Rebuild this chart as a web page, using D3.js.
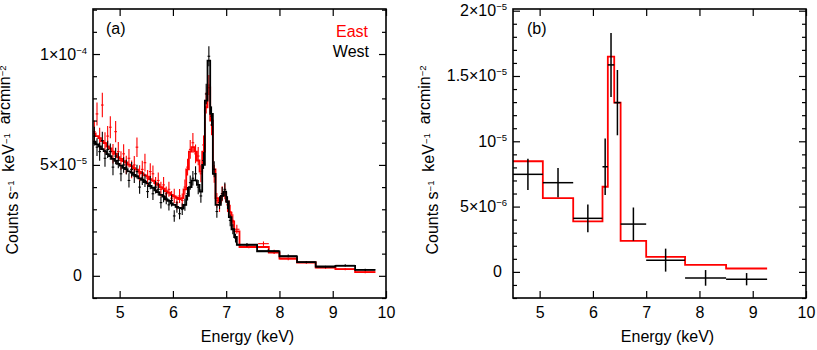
<!DOCTYPE html>
<html>
<head>
<meta charset="utf-8">
<script src="https://cdn.jsdelivr.net/npm/d3@7"></script>
<style>
body { margin: 0; background: #fff; }
svg { font-family: "Liberation Sans", Arial, Helvetica, sans-serif; }
text { white-space: pre; }
</style>
</head>
<body>
<svg id="vis" width="817" height="350"></svg>
<script>
// ---- panel (a): spectra in units of 1e-5 counts/s/keV/arcmin2 ----
let energyFine = [4.525, 4.575, 4.625, 4.675, 4.725, 4.775, 4.825, 4.875, 4.925, 4.975,
  5.025, 5.075, 5.125, 5.175, 5.225, 5.275, 5.325, 5.375, 5.425, 5.475,
  5.525, 5.575, 5.625, 5.675, 5.725, 5.775, 5.825, 5.875, 5.925, 5.975,
  6.025, 6.075, 6.125, 6.175, 6.225, 6.275, 6.325, 6.375, 6.425, 6.475,
  6.525, 6.575, 6.625, 6.675, 6.725, 6.775, 6.825, 6.875, 6.925, 6.975,
  7.025, 7.075, 7.125];
let fineHalfWidth = 0.025;

let eastFine = [6.5, 7.3, 6.2, 7.7, 6.0, 6.3, 6.7, 5.5, 6.5, 5.6,
  5.2, 5.5, 5.0, 5.3, 4.8, 5.0, 5.8, 4.6, 4.8, 5.1,
  4.4, 4.7, 4.6, 4.1, 4.3, 3.9, 4.1, 3.7, 3.9, 3.5,
  3.6, 3.3, 3.6, 3.4, 4.0, 4.9, 5.7, 6.0, 5.5, 5.4,
  4.6, 5.9, 7.8, 8.6, 6.8, 4.6, 3.4, 3.2, 3.7, 3.8,
  3.2, 2.9, 2.5];
let eastFineErr = [0.5, 0.52, 0.48, 0.55, 0.47, 0.46, 0.5, 0.44, 0.48, 0.43,
  0.42, 0.43, 0.41, 0.42, 0.4, 0.4, 0.44, 0.38, 0.39, 0.4,
  0.37, 0.38, 0.37, 0.35, 0.36, 0.34, 0.35, 0.33, 0.34, 0.32,
  0.33, 0.31, 0.32, 0.31, 0.34, 0.38, 0.42, 0.44, 0.42, 0.41,
  0.38, 0.43, 0.48, 0.45, 0.46, 0.4, 0.33, 0.32, 0.34, 0.35,
  0.32, 0.3, 0.28];
let eastFineModel = [6.42, 6.3, 6.21, 6.07, 5.98, 5.83, 5.74, 5.6, 5.5, 5.35,
  5.27, 5.17, 5.11, 5.01, 4.95, 4.85, 4.79, 4.69, 4.63, 4.53,
  4.47, 4.36, 4.29, 4.18, 4.11, 4.0, 3.93, 3.82, 3.75, 3.65,
  3.58, 3.51, 3.46, 3.5, 3.9, 4.8, 5.6, 5.8, 5.6, 5.2,
  4.7, 5.6, 7.6, 8.5, 7.0, 4.8, 3.5, 3.3, 3.6, 3.75,
  3.35, 2.85, 2.45];

let westFine = [6.3, 5.8, 5.6, 6.1, 5.3, 5.7, 5.6, 4.9, 5.4, 5.2,
  4.6, 5.0, 4.9, 4.3, 4.8, 4.5, 4.7, 4.0, 4.4, 4.3,
  3.8, 4.2, 3.7, 4.0, 3.9, 3.3, 3.6, 3.5, 3.2, 3.4,
  2.7, 3.1, 2.8, 3.0, 3.2, 3.7, 4.2, 4.4, 4.6, 4.0,
  3.6, 5.2, 8.2, 9.9, 7.2, 4.8, 2.9, 3.3, 3.7, 3.9,
  3.3, 2.5, 2.1];
let westFineErr = [0.42, 0.4, 0.41, 0.4, 0.38, 0.39, 0.37, 0.36, 0.37, 0.35,
  0.34, 0.35, 0.33, 0.32, 0.33, 0.32, 0.31, 0.3, 0.31, 0.3,
  0.29, 0.3, 0.28, 0.29, 0.28, 0.27, 0.28, 0.27, 0.26, 0.27,
  0.26, 0.26, 0.25, 0.26, 0.27, 0.3, 0.32, 0.33, 0.34, 0.32,
  0.3, 0.38, 0.46, 0.45, 0.44, 0.36, 0.28, 0.29, 0.3, 0.31,
  0.29, 0.26, 0.23];
let westFineModel = [6.05, 5.93, 5.84, 5.71, 5.62, 5.49, 5.4, 5.27, 5.18, 5.05,
  4.97, 4.87, 4.81, 4.71, 4.65, 4.55, 4.49, 4.39, 4.33, 4.23,
  4.17, 4.05, 3.97, 3.85, 3.77, 3.65, 3.57, 3.45, 3.38, 3.27,
  3.2, 3.11, 3.06, 3.05, 3.2, 3.6, 4.0, 4.3, 4.3, 4.1,
  3.8, 5.0, 7.9, 9.7, 7.3, 4.6, 3.2, 3.2, 3.6, 3.8,
  3.35, 2.65, 2.1];

// grouped bins above 7.15 keV
let eastCoarseLo = [7.15, 7.25, 7.6, 7.8, 8.0, 8.33, 8.68, 9.05, 9.42];
let eastCoarseHi = [7.25, 7.6, 7.8, 8.0, 8.33, 8.68, 9.05, 9.42, 9.8];
let eastCoarse = [2.1, 1.32, 1.45, 1.08, 0.76, 0.6, 0.37, 0.3, 0.17];
let eastCoarseErr = [0.2, 0.08, 0.1, 0.1, 0.06, 0.05, 0.05, 0.05, 0.05];
let eastCoarseModel = [2.0, 1.3, 1.3, 1.05, 0.78, 0.6, 0.37, 0.3, 0.17];

let westCoarseLo = [7.15, 7.2, 7.58, 8.0, 8.33, 8.68, 9.05, 9.42];
let westCoarseHi = [7.2, 7.58, 8.0, 8.33, 8.68, 9.05, 9.42, 9.8];
let westCoarse = [1.7, 1.4, 1.13, 0.9, 0.62, 0.4, 0.47, 0.27];
let westCoarseErr = [0.2, 0.08, 0.07, 0.06, 0.05, 0.05, 0.05, 0.05];
let westCoarseModel = [1.75, 1.4, 1.1, 0.88, 0.62, 0.42, 0.45, 0.27];

// ---- panel (b): units of 1e-6 ----
let binLoB = [4.5, 5.06, 5.63, 6.18, 6.28, 6.4, 6.52, 7.0, 7.73, 8.5];
let binHiB = [5.06, 5.63, 6.18, 6.28, 6.4, 6.52, 7.0, 7.73, 8.5, 9.27];
let dataB = [7.47, 6.83, 4.1, 8.05, 15.85, 12.96, 3.66, 0.9, -0.46, -0.56];
let errB = [1.2, 1.12, 1.06, 2.16, 2.45, 2.5, 1.27, 0.88, 0.6, 0.47];
let modelB = [8.47, 5.65, 3.86, 6.52, 16.49, 12.96, 2.38, 1.15, 0.54, 0.26];

// ticks
let xTicks = [5, 6, 7, 8, 9, 10];
let yMajorA = [0, 5, 10];
let yLabelA = [["0", ""], ["5\u00d710", "\u22125"], ["1\u00d710", "\u22124"]];
let yMinorA = [-1, 1, 2, 3, 4, 6, 7, 8, 9, 11, 12];
let yMajorB = [0, 5, 10, 15, 20];
let yLabelB = [["0", ""], ["5\u00d710", "\u22126"], ["10", "\u22125"], ["1.5\u00d710", "\u22125"], ["2\u00d710", "\u22125"]];
let yMinorB = [-2, -1, 1, 2, 3, 4, 6, 7, 8, 9, 11, 12, 13, 14, 16, 17, 18, 19];

let frameA = {left: 93, right: 386, top: 9, bottom: 298};
let frameB = {left: 513, right: 806, top: 9, bottom: 298};
let fontSize = 16;

let svg = d3.select("#vis");

function makeBins(centers, half, vals, errs, model, lo, hi, cvals, cerrs, cmodel) {
  let bins = centers.map((e, i) => ({lo: e - half, hi: e + half, v: vals[i], err: errs[i], m: model[i]}));
  lo.forEach((l, i) => bins.push({lo: l, hi: hi[i], v: cvals[i], err: cerrs[i], m: cmodel[i]}));
  return bins;
}

function drawAxes(frame, x, y, yMajor, yMinor, yLabels) {
  let g = svg.append("g");
  let ax = [
    d3.axisBottom(x).tickValues(xTicks).tickSizeInner(-7).tickSizeOuter(0).tickPadding(9).tickFormat(d3.format("d")),
    d3.axisTop(x).tickValues(xTicks).tickSizeInner(-7).tickSizeOuter(0).tickFormat("")
  ];
  g.append("g").attr("transform", "translate(0," + frame.bottom + ")").call(ax[0])
    .call(s => s.selectAll("text").attr("font-size", fontSize).attr("fill", "#000"));
  g.append("g").attr("transform", "translate(0," + frame.top + ")").call(ax[1]);
  g.selectAll("g").attr("font-family", null).attr("font-size", null);

  for (let side of ["left", "right"]) {
    let pos = side == "left" ? frame.left : frame.right;
    let mk = side == "left" ? d3.axisLeft : d3.axisRight;
    g.append("g").attr("transform", "translate(" + pos + ",0)")
      .call(mk(y).tickValues(yMajor).tickSizeInner(-7).tickSizeOuter(0).tickFormat(""));
    g.append("g").attr("transform", "translate(" + pos + ",0)")
      .call(mk(y).tickValues(yMinor).tickSizeInner(-4).tickSizeOuter(0).tickFormat(""));
  }
  g.selectAll(".domain").remove();
  g.selectAll(".tick line").attr("stroke", "#000").attr("stroke-width", 1.2);

  // y tick labels with superscript exponents
  yMajor.forEach((v, i) => {
    let lab = yLabels[i];
    let t = svg.append("text")
      .attr("x", frame.left - (lab[1] ? 6 : 11))
      .attr("y", y(v) + 5.5)
      .attr("text-anchor", "end")
      .attr("font-size", fontSize);
    t.append("tspan").text(lab[0]);
    if (lab[1]) t.append("tspan").attr("dy", -6).attr("font-size", 9.5).text(lab[1]);
  });

  svg.append("rect")
    .attr("x", frame.left).attr("y", frame.top)
    .attr("width", frame.right - frame.left).attr("height", frame.bottom - frame.top)
    .attr("fill", "none").attr("stroke", "#000").attr("stroke-width", 1.6);

  // axis titles
  svg.append("text")
    .attr("x", (frame.left + frame.right) / 2 + 8)
    .attr("y", 342)
    .attr("text-anchor", "middle")
    .attr("font-size", fontSize)
    .text("Energy (keV)");

  let yt = svg.append("text")
    .attr("transform", "translate(" + (frame.left - 75) + ",160) rotate(-90)")
    .attr("text-anchor", "middle")
    .attr("font-size", fontSize);
  let parts = [["Counts s", "\u22121"], ["  keV", "\u22121"], ["  arcmin", "\u22122"]];
  for (let p of parts) {
    yt.append("tspan").attr("dy", 0).text(p[0]);
    yt.append("tspan").attr("dy", -4).attr("font-size", 9.5).text(p[1]);
    yt.append("tspan").attr("dy", 4).attr("font-size", 9.5).text("");
  }
}

function drawSpectrum(g, bins, x, y, color, crossWidth, stepWidth) {
  let line = d3.line().x(d => x(d[0])).y(d => y(d[1]));
  let pts = [];
  for (let b of bins) { pts.push([b.lo, b.m]); pts.push([b.hi, b.m]); }
  g.append("path")
    .attr("d", line(pts))
    .attr("fill", "none")
    .attr("stroke", color)
    .attr("stroke-width", stepWidth)
    .attr("stroke-linejoin", "miter");

  let cross = g.append("g").attr("stroke", color).attr("stroke-width", crossWidth);
  cross.selectAll("line.v").data(bins).join("line")
    .attr("class", "v")
    .attr("x1", d => x((d.lo + d.hi) / 2)).attr("x2", d => x((d.lo + d.hi) / 2))
    .attr("y1", d => y(d.v - d.err)).attr("y2", d => y(d.v + d.err));
  cross.selectAll("line.h").data(bins).join("line")
    .attr("class", "h")
    .attr("x1", d => x(d.lo)).attr("x2", d => x(d.hi))
    .attr("y1", d => y(d.v)).attr("y2", d => y(d.v));
}

// ---------- panel (a) ----------
let xA = d3.scaleLinear().domain([4.5, 10]).range([frameA.left, frameA.right]);
let yA = d3.scaleLinear().domain([-1, 12.03]).range([frameA.bottom, frameA.top]);

let eastBins = makeBins(energyFine, fineHalfWidth, eastFine, eastFineErr, eastFineModel,
  eastCoarseLo, eastCoarseHi, eastCoarse, eastCoarseErr, eastCoarseModel);
let westBins = makeBins(energyFine, fineHalfWidth, westFine, westFineErr, westFineModel,
  westCoarseLo, westCoarseHi, westCoarse, westCoarseErr, westCoarseModel);

let gA = svg.append("g");
drawSpectrum(gA, eastBins, xA, yA, "#ff0000", 1.1, 1.8);
drawSpectrum(gA, westBins, xA, yA, "#000", 1.1, 1.8);
drawAxes(frameA, xA, yA, yMajorA, yMinorA, yLabelA);

svg.append("text").attr("x", 106).attr("y", 34).attr("font-size", fontSize).text("(a)");
svg.append("text").attr("x", 368).attr("y", 37).attr("text-anchor", "end")
  .attr("font-size", fontSize).attr("fill", "#ff0000").text("East");
svg.append("text").attr("x", 369).attr("y", 57).attr("text-anchor", "end")
  .attr("font-size", fontSize).attr("fill", "#000").text("West");

// ---------- panel (b) ----------
let xB = d3.scaleLinear().domain([4.5, 10]).range([frameB.left, frameB.right]);
let yB = d3.scaleLinear().domain([-2, 20.13]).range([frameB.bottom, frameB.top]);

let gB = svg.append("g");
let binsB = binLoB.map((l, i) => ({lo: l, hi: binHiB[i], v: dataB[i], err: errB[i], m: modelB[i]}));
let stepLine = d3.line().x(d => xB(d[0])).y(d => yB(d[1]));
let stepPts = [];
binsB.forEach(b => { stepPts.push([b.lo, b.m]); stepPts.push([b.hi, b.m]); });
gB.append("path")
  .attr("d", stepLine(stepPts))
  .attr("fill", "none")
  .attr("stroke", "#ff0000")
  .attr("stroke-width", 1.8);
let crossB = gB.append("g").attr("stroke", "#000").attr("stroke-width", 1.5);
crossB.selectAll("line.v").data(binsB).join("line")
  .attr("x1", d => xB((d.lo + d.hi) / 2)).attr("x2", d => xB((d.lo + d.hi) / 2))
  .attr("y1", d => yB(d.v - d.err)).attr("y2", d => yB(d.v + d.err));
crossB.selectAll("line.h").data(binsB).join("line")
  .attr("x1", d => xB(d.lo)).attr("x2", d => xB(d.hi))
  .attr("y1", d => yB(d.v)).attr("y2", d => yB(d.v));
drawAxes(frameB, xB, yB, yMajorB, yMinorB, yLabelB);

svg.append("text").attr("x", 527).attr("y", 34).attr("font-size", fontSize).text("(b)");
</script>
</body>
</html>
